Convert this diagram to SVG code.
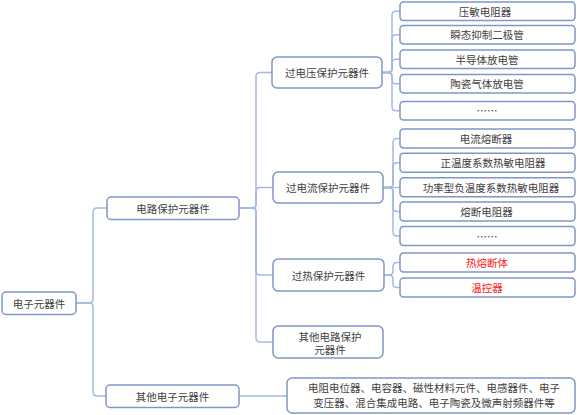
<svg xmlns="http://www.w3.org/2000/svg" width="577" height="415" viewBox="0 0 577 415">
<style>
.box{fill:#fff;stroke:#7f96c6;stroke-width:1.5}
.ln{fill:none;stroke:#a3b9e3;stroke-width:1.5}
.t{font-family:"Noto Sans CJK SC","Liberation Serif",serif;font-size:10.5px;fill:#404040;text-anchor:middle;dominant-baseline:central}
.r{fill:#ff2020}
</style>
<rect width="577" height="415" fill="#fff"/>
<g id="connectors">
<!-- level 1 -->
<path class="ln" d="M76,303 H89 Q93,303 93,299 V212 Q93,208 97,208 H107"/>
<path class="ln" d="M76,303 H89 Q93,303 93,307 V392 Q93,396 97,396 H106"/>
<!-- level 2 -->
<path class="ln" d="M239,208 H252 Q256,208 256,204 V76.5 Q256,72.5 260,72.5 H272"/>
<path class="ln" d="M239,208 H252 Q256,208 256,204 V191.5 Q256,187.5 260,187.5 H273"/>
<path class="ln" d="M239,208 H252 Q256,208 256,212 V271 Q256,275 260,275 H273"/>
<path class="ln" d="M239,208 H252 Q256,208 256,212 V338 Q256,342 260,342 H273"/>
<path class="ln" d="M239,396 H287"/>
<!-- level 3: over-voltage -->
<path class="ln" d="M382,72.5 H388 Q392,72.5 392,68.5 V15.25 Q392,11.25 396,11.25 H400"/>
<path class="ln" d="M382,72.5 H388 Q392,72.5 392,68.5 V38.75 Q392,34.75 396,34.75 H400"/>
<path class="ln" d="M382,72.5 H388 Q392,72.5 392,68.5 V63.25 Q392,59.25 396,59.25 H400"/>
<path class="ln" d="M382,72.5 H388 Q392,72.5 392,76.5 V79.75 Q392,83.75 396,83.75 H400"/>
<path class="ln" d="M382,72.5 H388 Q392,72.5 392,76.5 V106.75 Q392,110.75 396,110.75 H400"/>
<!-- level 3: over-current -->
<path class="ln" d="M383,187.5 H389 Q393,187.5 393,183.5 V142.5 Q393,138.5 397,138.5 H400"/>
<path class="ln" d="M383,187.5 H389 Q393,187.5 393,183.5 V166.8 Q393,162.8 397,162.8 H400"/>
<path class="ln" d="M383,187.5 H400"/>
<path class="ln" d="M383,187.5 H389 Q393,187.5 393,191.5 V207.5 Q393,211.5 397,211.5 H400"/>
<path class="ln" d="M383,187.5 H389 Q393,187.5 393,191.5 V232 Q393,236 397,236 H400"/>
<!-- level 3: over-heat -->
<path class="ln" d="M384,275 H389 Q393,275 393,271 V266.5 Q393,262.5 397,262.5 H400"/>
<path class="ln" d="M384,275 H389 Q393,275 393,279 V283.5 Q393,287.5 397,287.5 H400"/>
</g>
<g id="n-root"><rect class="box" x="2" y="292" width="74" height="22.5" rx="4"/><text class="t" x="39" y="303.25">电子元器件</text></g>
<g id="n-circuit"><rect class="box" x="107" y="197" width="132" height="22.5" rx="4"/><text class="t" x="173" y="208.25">电路保护元器件</text></g>
<g id="n-other-elec"><rect class="box" x="106" y="385" width="133" height="22.5" rx="4"/><text class="t" x="172.5" y="396.25">其他电子元器件</text></g>
<g id="n-ov"><rect class="box" x="272" y="57" width="110" height="31" rx="5"/><text class="t" x="327" y="72.5">过电压保护元器件</text></g>
<g id="n-oc"><rect class="box" x="273" y="172" width="110" height="31" rx="5"/><text class="t" x="328" y="187.5">过电流保护元器件</text></g>
<g id="n-oh"><rect class="box" x="273" y="259" width="111" height="32" rx="5"/><text class="t" x="328.5" y="275">过热保护元器件</text></g>
<g id="n-other-circ"><rect class="box" x="273" y="326" width="110" height="32" rx="5"/><text class="t" x="330" y="336">其他电路保护</text><text class="t" x="330" y="349.5">元器件</text></g>
<g id="n-other-list"><rect class="box" x="287" y="378" width="288" height="35" rx="5"/><text class="t" x="434" y="387.5">电阻电位器、电容器、磁性材料元件、电感器件、电子</text><text class="t" x="434" y="402">变压器、混合集成电路、电子陶瓷及微声射频器件等</text></g>
<g id="n-ov1"><rect class="box" x="400" y="2" width="175" height="18.5" rx="3.5"/><text class="t" x="485" y="11.25">压敏电阻器</text></g>
<g id="n-ov2"><rect class="box" x="400" y="25.5" width="175" height="18.5" rx="3.5"/><text class="t" x="487" y="34.75">瞬态抑制二极管</text></g>
<g id="n-ov3"><rect class="box" x="400" y="50" width="175" height="18.5" rx="3.5"/><text class="t" x="487" y="59.25">半导体放电管</text></g>
<g id="n-ov4"><rect class="box" x="400" y="74.5" width="175" height="18.5" rx="3.5"/><text class="t" x="487" y="83.75">陶瓷气体放电管</text></g>
<g id="n-ov5"><rect class="box" x="400" y="101.5" width="175" height="18.5" rx="3.5"/><text class="t" x="487" y="110.75">……</text></g>
<g id="n-oc1"><rect class="box" x="400" y="129" width="175" height="19" rx="3.5"/><text class="t" x="486" y="138.5">电流熔断器</text></g>
<g id="n-oc2"><rect class="box" x="400" y="153.3" width="175" height="19" rx="3.5"/><text class="t" x="493" y="162.8">正温度系数热敏电阻器</text></g>
<g id="n-oc3"><rect class="box" x="400" y="177.7" width="175" height="19" rx="3.5"/><text class="t" x="491" y="187.2">功率型负温度系数热敏电阻器</text></g>
<g id="n-oc4"><rect class="box" x="400" y="202" width="175" height="19" rx="3.5"/><text class="t" x="486.5" y="211.5">熔断电阻器</text></g>
<g id="n-oc5"><rect class="box" x="400" y="226.5" width="175" height="19" rx="3.5"/><text class="t" x="487" y="236">……</text></g>
<g id="n-oh1"><rect class="box" x="400" y="253" width="175" height="19" rx="3.5"/><text class="t r" x="487" y="262.5">热熔断体</text></g>
<g id="n-oh2"><rect class="box" x="400" y="278" width="175" height="19" rx="3.5"/><text class="t r" x="487" y="287.5">温控器</text></g>
</svg>
